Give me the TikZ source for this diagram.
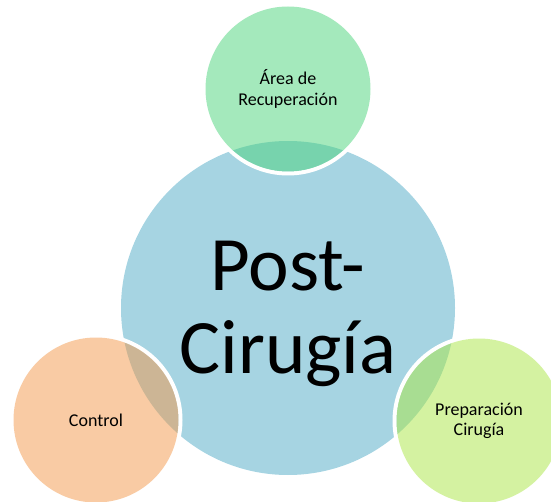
\documentclass[tikz,border=0pt]{standalone}
\usepackage{fontspec}
\setmainfont{Carlito}
\definecolor{bigblue}{RGB}{166,212,226}
\definecolor{topgreen}{RGB}{73,211,122}
\definecolor{peach}{RGB}{243,152,73}
\definecolor{lime}{RGB}{170,230,68}
\tikzset{
  satcirc/.style={circle, minimum size=165pt, inner sep=0pt, fill opacity=0.5, text opacity=1, align=center, font=\fontsize{18}{20.5}\selectfont},
  ring/.style={draw=white, line width=4pt},
}
\begin{document}
\begin{tikzpicture}[x=1pt,y=-1pt]
\useasboundingbox (0,0) rectangle (551,502);
\node[circle, minimum size=334pt, inner sep=0pt, fill=bigblue] (main) at (288,308) {};
\node[align=center, inner sep=0pt, font=\fontsize{77}{83}\selectfont] (maintext) at (288,314) {Post-\\Cirugía};
% white rings
\draw[ring] (288,89) circle (84.5);
\draw[ring] (96,420) circle (84.5);
\draw[ring] (479,421) circle (84.5);
\node[satcirc, fill=topgreen] (top) at (288,89) {Área de\\Recuperación};
\node[satcirc, fill=peach] (left) at (96,420) {Control};
\node[satcirc, fill=lime] (right) at (479,421) {Preparación\\Cirugía};
\end{tikzpicture}
\end{document}
